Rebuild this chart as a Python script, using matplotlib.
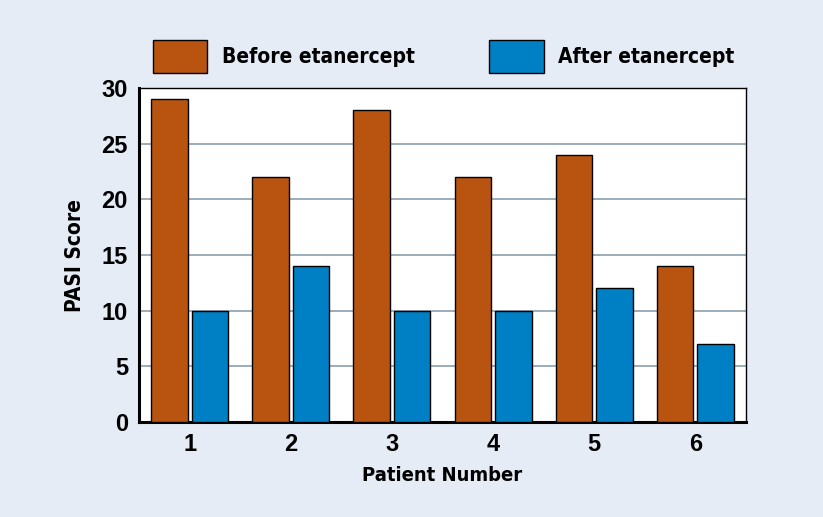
import numpy as np
import matplotlib
matplotlib.use('Agg')
import matplotlib.pyplot as plt

# du lieu doc tu hinh
patients = ['1', '2', '3', '4', '5', '6']
before = [29, 22, 28, 22, 24, 14]
after = [10, 14, 10, 10, 12, 7]
series_names = ['Before etanercept', 'After etanercept']
yticks = [0, 5, 10, 15, 20, 25, 30]

c_before = '#b85410'
c_after = '#0080c4'
bg = '#e5ecf6'

fig = plt.figure(figsize=(8.23, 5.17), dpi=100, facecolor=bg)
ax = fig.add_axes([139/823, 1 - 422/517, 607/823, 334/517])
ax.set_facecolor('white')

x = np.arange(1, len(patients) + 1)
w = 0.36
b1 = ax.bar(x - 0.2, before, width=w, color=c_before, edgecolor='black', linewidth=1, zorder=3, label=series_names[0])
b2 = ax.bar(x + 0.2, after, width=w, color=c_after, edgecolor='black', linewidth=1, zorder=3, label=series_names[1])

ax.set_xlim(0.5, 6.5)
ax.set_ylim(0, 30)
ax.set_yticks(yticks)
ax.set_xticks(x)
ax.set_xticklabels(patients)
ax.yaxis.grid(True, color='#8aa0b0', linewidth=1.2, zorder=0)
ax.tick_params(length=0, labelsize=17, pad=8)
for lab in ax.get_xticklabels() + ax.get_yticklabels():
    lab.set_fontweight('bold')
    lab.set_family('Liberation Sans')

ax.spines['left'].set_linewidth(2.2)
ax.spines['bottom'].set_linewidth(2.2)
ax.spines['top'].set_linewidth(1)
ax.spines['right'].set_linewidth(1)

ax.set_ylabel('PASI Score', fontsize=15, fontweight='bold', family='DejaVu Sans', fontstretch='condensed', labelpad=12)
ax.set_xlabel('Patient Number', fontsize=14.5, fontweight='bold', family='DejaVu Sans', fontstretch='condensed', labelpad=7)

# chu thich: do bu borderaxespad + borderpad (~19px)
leg = fig.legend(handles=[b1, b2], loc='upper left', bbox_to_anchor=(134/823, 1 - 21/517), ncol=2,
                 frameon=False, handlelength=2.6, handleheight=2.1, columnspacing=3.6, handletextpad=0.7,
                 prop={'family': 'DejaVu Sans', 'stretch': 'condensed', 'weight': 'bold', 'size': 15})

fig.savefig('out.png', dpi=100, facecolor=bg)
